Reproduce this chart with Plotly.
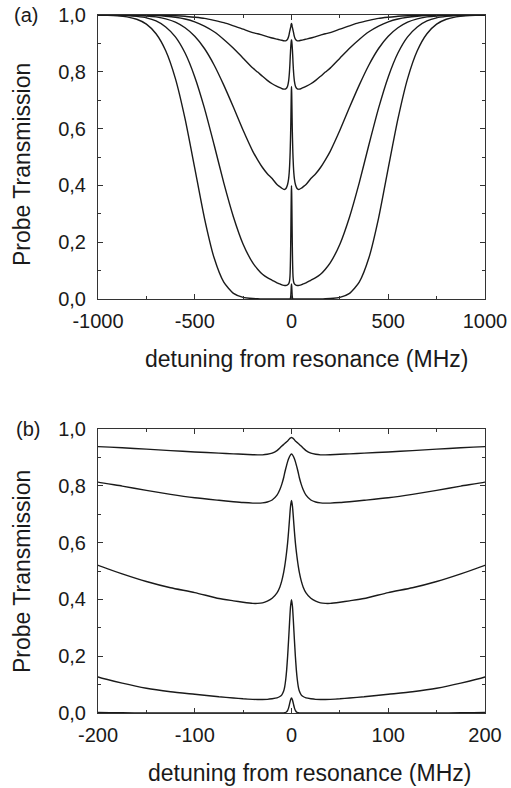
import plotly.graph_objects as go

# detuning from resonance (MHz)
detuning = [-1000, -950, -900, -850, -800, -750, -700, -650, -600, -550, -500, -450, -400, -350, -300, -250,
            -200, -175, -150, -125, -100, -75, -60, -50, -40, -35, -30, -25, -20, -15, -12, -10, -8, -7, -6, -5,
            -4, -3, -2, -1, 0, 1, 2, 3, 4, 5, 6, 7, 8, 10, 12, 15, 20, 25, 30, 35, 40, 50, 60, 75, 100, 125, 150,
            175, 200, 250, 300, 350, 400, 450, 500, 550, 600, 650, 700, 750, 800, 850, 900, 950, 1000]

# probe transmission, five optical depths (lowest to highest)
trans_1 = [1.0, 1.0, 1.0, 1.0, 0.9999, 0.9997, 0.9993, 0.9987, 0.9975, 0.9955, 0.992, 0.988, 0.981, 0.973, 0.962,
           0.950, 0.938, 0.934, 0.929, 0.924, 0.919, 0.915, 0.9125, 0.911, 0.9095, 0.909, 0.909, 0.911, 0.915, 0.924,
           0.933, 0.940, 0.946, 0.949, 0.952, 0.955, 0.958, 0.962, 0.966, 0.969,
           0.970,
           0.969, 0.966, 0.962, 0.958, 0.955, 0.952, 0.949, 0.946, 0.940, 0.933, 0.924, 0.915, 0.911, 0.909, 0.909,
           0.9095, 0.911, 0.9125, 0.915, 0.919, 0.924, 0.929, 0.934, 0.938, 0.950, 0.962, 0.973, 0.981, 0.988, 0.992,
           0.9955, 0.9975, 0.9987, 0.9993, 0.9997, 0.9999, 1.0, 1.0, 1.0, 1.0]
trans_2 = [1.0, 1.0, 0.9999, 0.9998, 0.9995, 0.999, 0.9978, 0.9957, 0.992, 0.986, 0.976, 0.961, 0.941, 0.914, 0.883,
           0.848, 0.813, 0.799, 0.784, 0.770, 0.758, 0.749, 0.744, 0.741, 0.739, 0.739, 0.740, 0.743, 0.750, 0.767,
           0.787, 0.806, 0.830, 0.846, 0.860, 0.873, 0.885, 0.895, 0.903, 0.909,
           0.912,
           0.909, 0.903, 0.895, 0.885, 0.873, 0.860, 0.846, 0.830, 0.806, 0.787, 0.767, 0.750, 0.743, 0.740, 0.739,
           0.739, 0.741, 0.744, 0.749, 0.758, 0.770, 0.784, 0.799, 0.813, 0.848, 0.883, 0.914, 0.941, 0.961, 0.976,
           0.986, 0.992, 0.9957, 0.9978, 0.999, 0.9995, 0.9998, 0.9999, 1.0, 1.0]
trans_3 = [1.0, 0.9999, 0.9997, 0.9994, 0.9985, 0.9967, 0.9932, 0.9866, 0.975, 0.955, 0.925, 0.882, 0.824, 0.753,
           0.675, 0.594, 0.520, 0.490, 0.463, 0.441, 0.424, 0.403, 0.395, 0.390, 0.386, 0.386, 0.388, 0.394, 0.404,
           0.423, 0.444, 0.466, 0.497, 0.517, 0.541, 0.568, 0.600, 0.640, 0.685, 0.728,
           0.748,
           0.728, 0.685, 0.640, 0.600, 0.568, 0.541, 0.517, 0.497, 0.466, 0.444, 0.423, 0.404, 0.394, 0.388, 0.386,
           0.386, 0.390, 0.395, 0.403, 0.424, 0.441, 0.463, 0.490, 0.520, 0.594, 0.675, 0.753, 0.824, 0.882, 0.925,
           0.955, 0.975, 0.9866, 0.9932, 0.9967, 0.9985, 0.9994, 0.9997, 0.9999, 1.0]
trans_4 = [0.9999, 0.9997, 0.9992, 0.998, 0.995, 0.990, 0.979, 0.958, 0.923, 0.866, 0.782, 0.672, 0.543, 0.409, 0.289,
           0.193, 0.127, 0.105, 0.087, 0.075, 0.066, 0.057, 0.053, 0.050, 0.048, 0.0475, 0.0475, 0.048, 0.050, 0.053,
           0.058, 0.064, 0.078, 0.093, 0.117, 0.152, 0.200, 0.258, 0.320, 0.375,
           0.399,
           0.375, 0.320, 0.258, 0.200, 0.152, 0.117, 0.093, 0.078, 0.064, 0.058, 0.053, 0.050, 0.048, 0.0475, 0.0475,
           0.048, 0.050, 0.053, 0.057, 0.066, 0.075, 0.087, 0.105, 0.127, 0.193, 0.289, 0.409, 0.543, 0.672, 0.782,
           0.866, 0.923, 0.958, 0.979, 0.990, 0.995, 0.998, 0.9992, 0.9997, 0.9999]
trans_5 = [0.9996, 0.999, 0.9974, 0.9936, 0.985, 0.968, 0.934, 0.874, 0.776, 0.634, 0.461, 0.285, 0.145, 0.0594,
           0.0197, 0.0056, 0.0015, 0.0008, 0.0004, 0.0002, 0.0, 0.0, 0.0, 0.0, 0.0, 0.0, 0.0, 0.0, 0.0, 0.0, 0.0001,
           0.0002, 0.0005, 0.001, 0.002, 0.004, 0.009, 0.018, 0.032, 0.046,
           0.053,
           0.046, 0.032, 0.018, 0.009, 0.004, 0.002, 0.001, 0.0005, 0.0002, 0.0001, 0.0, 0.0, 0.0, 0.0, 0.0, 0.0,
           0.0, 0.0, 0.0, 0.0, 0.0002, 0.0004, 0.0008, 0.0015, 0.0056, 0.0197, 0.0594, 0.145, 0.285, 0.461, 0.634,
           0.776, 0.874, 0.934, 0.968, 0.985, 0.9936, 0.9974, 0.999, 0.9996]

series = [trans_1, trans_2, trans_3, trans_4, trans_5]
for s in series:
    assert len(s) == len(detuning)

y_tickvals = [0.0, 0.2, 0.4, 0.6, 0.8, 1.0]
y_ticktext = ["0,0", "0,2", "0,4", "0,6", "0,8", "1,0"]
xa_tickvals = [-1000, -500, 0, 500, 1000]
xa_ticktext = ["-1000", "-500", "0", "500", "1000"]
xb_tickvals = [-200, -100, 0, 100, 200]
xb_ticktext = ["-200", "-100", "0", "100", "200"]

W, H = 511, 788
FONT = "Liberation Sans, Arial, sans-serif"
INK = "#1a1a1a"


def px_x(p):
    return p / W


def px_y(p):
    return 1 - p / H


line_style = dict(color=INK, width=1.4, shape="spline", smoothing=0.6)

fig = go.Figure()
for s in series:
    fig.add_trace(go.Scatter(x=detuning, y=s, mode="lines", xaxis="x", yaxis="y",
                             line=line_style, showlegend=False, hoverinfo="skip"))
for s in series:
    fig.add_trace(go.Scatter(x=detuning, y=s, mode="lines", xaxis="x2", yaxis="y2",
                             line=line_style, showlegend=False, hoverinfo="skip"))

common = dict(showline=True, linecolor="#333", linewidth=1, mirror="ticks", ticks="inside",
              ticklen=5, tickwidth=1, tickcolor="#333", showgrid=False, zeroline=False,
              automargin=False, tickfont=dict(family=FONT, size=20, color=INK))

fig.update_layout(
    width=W, height=H, autosize=False, margin=dict(l=0, r=0, t=0, b=0, pad=0),
    paper_bgcolor="white", plot_bgcolor="white",
    xaxis=dict(domain=[px_x(98), px_x(485)], range=[-1000, 1000], anchor="y",
               tickmode="array", tickvals=xa_tickvals, ticktext=xa_ticktext, ticklabelstandoff=4,
               minor=dict(ticks="inside", ticklen=3, tickcolor="#333", dtick=250, tick0=-1000), **common),
    yaxis=dict(domain=[px_y(299), px_y(15)], range=[0, 1], anchor="x",
               tickmode="array", tickvals=y_tickvals, ticktext=y_ticktext, ticklabelstandoff=7,
               minor=dict(ticks="inside", ticklen=3, tickcolor="#333", dtick=0.1, tick0=0), **common),
    xaxis2=dict(domain=[px_x(98), px_x(485)], range=[-200, 200], anchor="y2",
                tickmode="array", tickvals=xb_tickvals, ticktext=xb_ticktext, ticklabelstandoff=4,
                minor=dict(ticks="inside", ticklen=3, tickcolor="#333", dtick=50, tick0=-200), **common),
    yaxis2=dict(domain=[px_y(713), px_y(429)], range=[0, 1], anchor="x2",
                tickmode="array", tickvals=y_tickvals, ticktext=y_ticktext, ticklabelstandoff=7,
                minor=dict(ticks="inside", ticklen=3, tickcolor="#333", dtick=0.1, tick0=0), **common),
)

label_font = dict(family=FONT, size=20, color=INK)
title_font = dict(family=FONT, size=23, color=INK)


def note(text, x, y, font, angle=0):
    return dict(text=text, x=px_x(x), y=px_y(y), xref="paper", yref="paper", showarrow=False,
                xanchor="center", yanchor="middle", textangle=angle, font=font)


annotations = [
    note("(a)", 26, 15, label_font),
    note("(b)", 28, 429, label_font),
    note("Probe Transmission", 22, 165, title_font, -90),
    note("Probe Transmission", 22, 572, title_font, -90),
    note("detuning from resonance (MHz)", 306, 359, title_font),
    note("detuning from resonance (MHz)", 309, 773, title_font),
]
fig.update_layout(annotations=annotations)

fig.write_html("out.html", config={"displayModeBar": False},
               post_script="document.body.style.margin='0';document.body.style.overflow='hidden';")
